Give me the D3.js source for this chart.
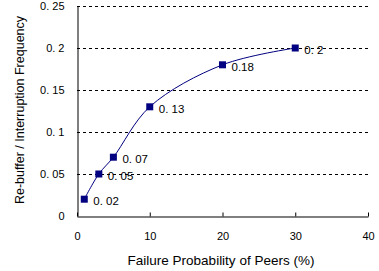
<!DOCTYPE html>
<html>
<head>
<meta charset="utf-8">
<script src="https://cdn.jsdelivr.net/npm/d3@7"></script>
<style>
  body { margin: 0; background: #fff; }
  text { font-family: Arial, "Liberation Sans", sans-serif; }
</style>
</head>
<body>
<svg id="chart" width="379" height="271"></svg>
<script>
// data
const failureProb = [1, 3, 5, 10, 20, 30];
const rebufferFreq = [0.02, 0.05, 0.07, 0.13, 0.18, 0.2];
const pointLabels = ['0. 02', '0. 05', '0. 07', '0. 13', '0.18', '0. 2'];
const xTicks = [0, 10, 20, 30, 40];
const yTicks = [0, 0.05, 0.1, 0.15, 0.2, 0.25];
const yTickLabels = ['0', '0. 05', '0. 1', '0. 15', '0. 2', '0. 25'];

const margin = {top: 6, right: 11, bottom: 55, left: 77};
const width = 379 - margin.left - margin.right;
const height = 271 - margin.top - margin.bottom;
const navy = '#000080';

const svg = d3.select('#chart')
  .append('g')
  .attr('transform', 'translate(' + margin.left + ',' + margin.top + ')');

const x = d3.scaleLinear().domain([0, 40]).range([0, width]);
const y = d3.scaleLinear().domain([0, 0.25]).range([height, 0]);

// dashed gridlines
svg.append('g')
  .selectAll('line')
  .data(yTicks.filter(d => d > 0))
  .enter()
  .append('line')
  .attr('x1', 0)
  .attr('x2', width)
  .attr('y1', d => y(d) + 0.5)
  .attr('y2', d => y(d) + 0.5)
  .style('stroke', '#000')
  .style('stroke-dasharray', '3,3');

// x axis (ticks pointing up)
const xAxis = svg.append('g')
  .attr('transform', 'translate(0,' + (height + 0.5) + ')')
  .call(d3.axisBottom(x).tickValues(xTicks).tickSizeInner(-4).tickSizeOuter(0).tickPadding(16));
xAxis.select('.domain').style('stroke', '#000');
xAxis.selectAll('text').style('font-size', '11px').style('fill', '#000');

// y axis
const yAxis = svg.append('g')
  .attr('transform', 'translate(0.5,0)')
  .call(d3.axisLeft(y).tickValues(yTicks).tickSize(0).tickPadding(13)
    .tickFormat((d, i) => yTickLabels[i]));
yAxis.select('.domain').style('stroke', '#000');
yAxis.selectAll('text').style('font-size', '11px').style('fill', '#000');

const pts = failureProb.map((d, i) => ({x: d, y: rebufferFreq[i], label: pointLabels[i]}));

// smoothed series
const line = d3.line()
  .x(d => x(d.x))
  .y(d => y(d.y))
  .curve(d3.curveCatmullRom);

svg.append('path')
  .datum(pts)
  .attr('d', line)
  .style('fill', 'none')
  .style('stroke', navy)
  .style('stroke-width', 1);

svg.selectAll('rect.marker')
  .data(pts)
  .enter()
  .append('rect')
  .attr('class', 'marker')
  .attr('x', d => x(d.x) - 3.5)
  .attr('y', d => y(d.y) - 3.5)
  .attr('width', 7)
  .attr('height', 7)
  .style('fill', navy);

svg.selectAll('text.lbl')
  .data(pts)
  .enter()
  .append('text')
  .attr('class', 'lbl')
  .attr('x', d => x(d.x) + 9)
  .attr('y', d => y(d.y) + 6)
  .style('font-size', '11.5px')
  .text(d => d.label);

// axis titles
svg.append('text')
  .attr('x', 144)
  .attr('y', height + 49)
  .attr('text-anchor', 'middle')
  .style('font-size', '13.5px')
  .text('Failure Probability of Peers (%)');

svg.append('text')
  .attr('transform', 'translate(' + (-53) + ',' + 104 + ') rotate(-90)')
  .attr('text-anchor', 'middle')
  .style('font-size', '12.5px')
  .text('Re-buffer / Interruption Frequency');
</script>
</body>
</html>
